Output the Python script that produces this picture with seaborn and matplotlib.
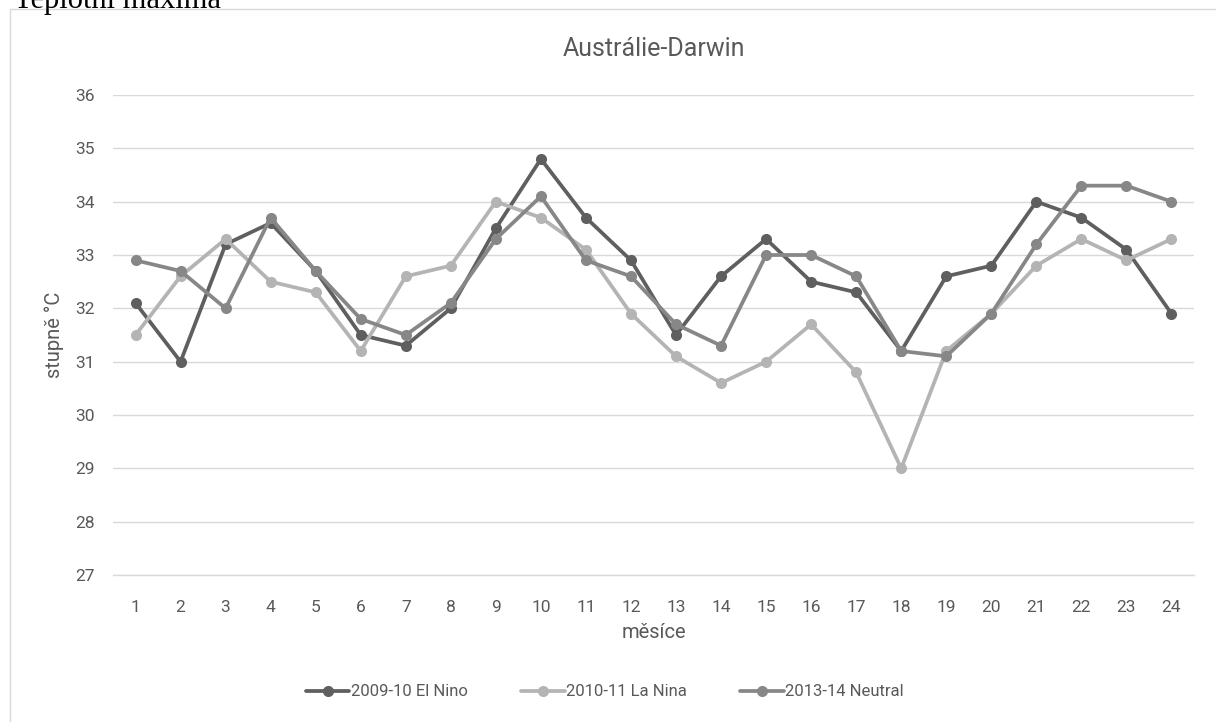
import numpy as np
import pandas as pd
import matplotlib
matplotlib.use("Agg")
import matplotlib.pyplot as plt
import seaborn as sns
from matplotlib.patches import Rectangle

months = list(range(1, 25))
el_nino = [32.1, 31.0, 33.2, 33.6, 32.7, 31.5, 31.3, 32.0, 33.5, 34.8, 33.7, 32.9,
           31.5, 32.6, 33.3, 32.5, 32.3, 31.2, 32.6, 32.8, 34.0, 33.7, 33.1, 31.9]
la_nina = [31.5, 32.6, 33.3, 32.5, 32.3, 31.2, 32.6, 32.8, 34.0, 33.7, 33.1, 31.9,
           31.1, 30.6, 31.0, 31.7, 30.8, 29.0, 31.2, 31.9, 32.8, 33.3, 32.9, 33.3]
neutral = [32.9, 32.7, 32.0, 33.7, 32.7, 31.8, 31.5, 32.1, 33.3, 34.1, 32.9, 32.6,
           31.7, 31.3, 33.0, 33.0, 32.6, 31.2, 31.1, 31.9, 33.2, 34.3, 34.3, 34.0]
series_names = ["2009-10 El Nino", "2010-11 La Nina", "2013-14 Neutral"]
colors = ["#5f5f5f", "#b4b4b4", "#878787"]
y_ticks = list(range(27, 37))

df = pd.DataFrame({
    "month": months * 3,
    "value": el_nino + la_nina + neutral,
    "series": [series_names[0]] * 24 + [series_names[1]] * 24 + [series_names[2]] * 24,
})

sns.set_theme(style="white")
plt.rcParams['font.family'] = ['Roboto', 'DejaVu Sans']

fig = plt.figure(figsize=(12.16, 7.22), dpi=100)
ax = fig.add_axes([113/1216, (722-575)/722, (1194-113)/1216, (575-95)/722])

sns.lineplot(data=df, x="month", y="value", hue="series", palette=colors,
             hue_order=series_names, marker="o", markersize=8, linewidth=2.7,
             markeredgewidth=0, ax=ax, legend=True)

ax.set_xlim(0.5, 24.5)
ax.set_ylim(27, 36)
ax.set_xticks(months)
ax.set_xticklabels([str(m) for m in months])
ax.set_yticks(y_ticks)
ax.grid(axis="y", color="#d9d9d9", linewidth=1)
ax.set_axisbelow(True)
for s in ["top", "right", "left"]:
    ax.spines[s].set_visible(False)
ax.spines["bottom"].set_color("#d9d9d9")
ax.spines["bottom"].set_linewidth(1)
ax.tick_params(axis="both", length=0, labelsize=12.5, colors="#595959")
ax.tick_params(axis="x", pad=18)
ax.tick_params(axis="y", pad=13)

ax.set_xlabel("měsíce", fontsize=14.5, color="#595959", labelpad=6)
ax.set_ylabel("stupně °C", fontsize=14.5, color="#595959", labelpad=8)
ax.set_title("Austrálie-Darwin", fontsize=18, color="#595959", pad=28)

handles, labels = ax.get_legend_handles_labels()
ax.legend(handles, labels, loc="center", bbox_to_anchor=(605/1216, (722-692)/722),
          bbox_transform=fig.transFigure, ncol=3, frameon=False, fontsize=12,
          labelcolor="#595959", handlelength=2.6, handletextpad=0.1, columnspacing=3.2)

fig.patches.append(Rectangle((10/1216, -0.05), 1.1, (722-9)/722 + 0.05,
                             transform=fig.transFigure, fill=False,
                             edgecolor="#d9d9d9", linewidth=1))

fig.text(14/1216, (722-8)/722, "Teplotní maxima", family=["Liberation Serif", "DejaVu Serif"],
         fontsize=22, color="black", ha="left", va="baseline")

fig.savefig("out.png", dpi=100)
